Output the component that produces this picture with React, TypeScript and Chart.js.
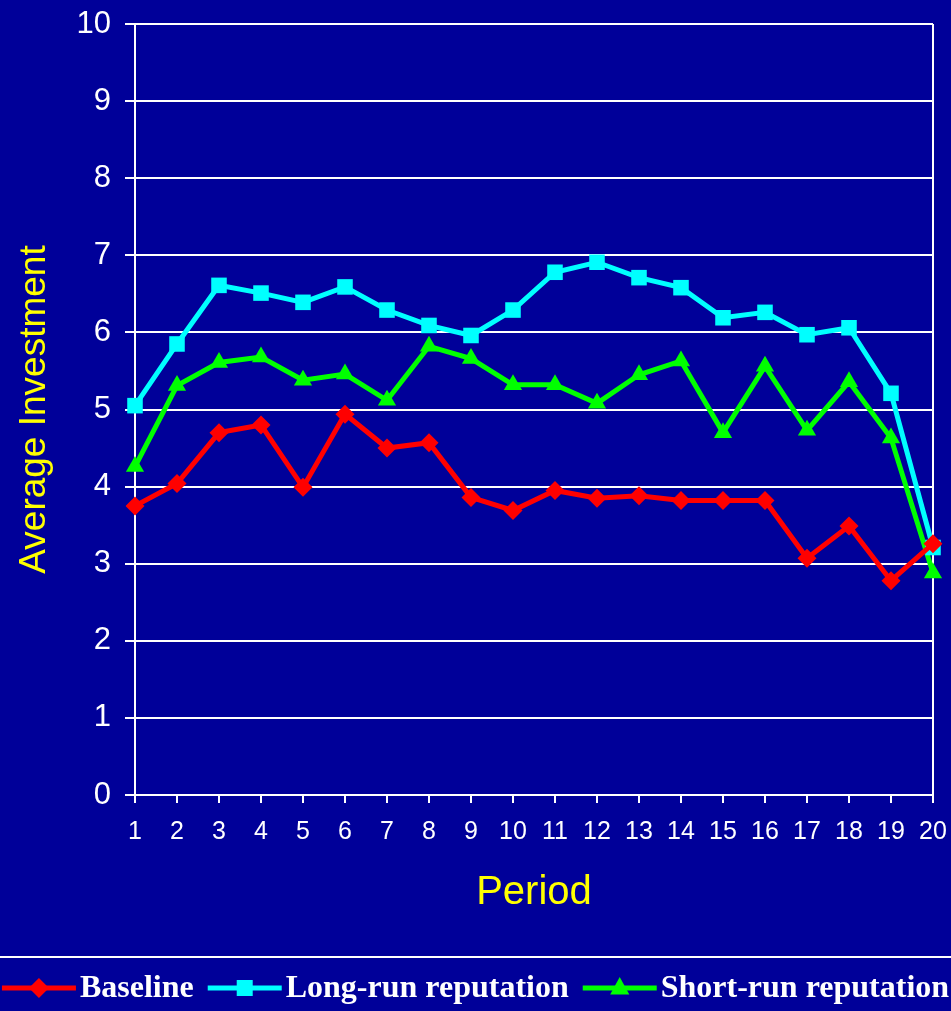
import React, { useEffect, useRef } from "react";
import { Chart, registerables } from "chart.js";

Chart.register(...registerables);

const periods = ["1","2","3","4","5","6","7","8","9","10","11","12","13","14","15","16","17","18","19","20"];
const baseline = [3.75,4.04,4.70,4.80,3.99,4.94,4.50,4.57,3.86,3.69,3.95,3.85,3.88,3.82,3.82,3.82,3.07,3.49,2.78,3.26];
const longRun = [5.05,5.85,6.61,6.51,6.39,6.59,6.29,6.09,5.96,6.29,6.78,6.91,6.71,6.58,6.19,6.26,5.97,6.06,5.21,3.21];
const shortRun = [4.26,5.31,5.61,5.68,5.38,5.46,5.12,5.82,5.66,5.32,5.32,5.08,5.45,5.63,4.70,5.56,4.73,5.36,4.63,2.88];
const seriesNames = ["Baseline", "Long-run reputation", "Short-run reputation"];
const yTicks = [0,1,2,3,4,5,6,7,8,9,10];

const BG = "#000099";

export default function App() {
  const ref = useRef<HTMLCanvasElement | null>(null);

  useEffect(() => {
    const canvas = ref.current;
    if (!canvas) return;
    document.body.style.margin = "0";
    document.body.style.background = BG;

    const bgPlugin = {
      id: "bg",
      beforeDraw(chart: any) {
        const c = chart.ctx;
        c.save();
        c.fillStyle = BG;
        c.fillRect(0, 0, chart.width, chart.height);
        c.restore();
      },
    };

    const legendPlugin = {
      id: "customLegend",
      afterDraw(chart: any) {
        const c = chart.ctx;
        c.save();
        c.strokeStyle = "#ffffff";
        c.lineWidth = 2;
        c.beginPath();
        c.moveTo(0, 957);
        c.lineTo(chart.width, 957);
        c.stroke();
        const font = "bold 32px 'Liberation Serif', 'Times New Roman', serif";
        c.font = font;
        const symW = 74;
        const gapText = 4;
        const gapItem = 14;
        const ds = chart.data.datasets;
        const widths = ds.map((d: any) => c.measureText(d.label).width);
        let total = 0;
        widths.forEach((w: number, i: number) => {
          total += symW + gapText + w + (i < widths.length - 1 ? gapItem : 0);
        });
        let x = Math.max(0, (chart.width - total) / 2);
        const y = 988;
        ds.forEach((d: any, i: number) => {
          c.strokeStyle = d.borderColor;
          c.lineWidth = 5;
          c.beginPath();
          c.moveTo(x, y);
          c.lineTo(x + symW, y);
          c.stroke();
          c.fillStyle = d.borderColor;
          const cx = x + symW / 2;
          const st = d.pointStyle;
          c.beginPath();
          if (st === "rectRot") {
            const r = 10;
            c.moveTo(cx, y - r);
            c.lineTo(cx + r, y);
            c.lineTo(cx, y + r);
            c.lineTo(cx - r, y);
          } else if (st === "rect") {
            const s = 8;
            c.rect(cx - s, y - s, 2 * s, 2 * s);
          } else {
            const r = 11;
            c.moveTo(cx, y - r);
            c.lineTo(cx + r * 0.87, y + r * 0.6);
            c.lineTo(cx - r * 0.87, y + r * 0.6);
          }
          c.closePath();
          c.fill();
          c.fillStyle = "#ffffff";
          c.font = font;
          c.textBaseline = "middle";
          c.textAlign = "left";
          c.fillText(d.label, x + symW + gapText, y + 1);
          x += symW + gapText + widths[i] + gapItem;
        });
        c.restore();
      },
    };

    const chart = new Chart(canvas, {
      type: "line",
      data: {
        labels: periods,
        datasets: [
          {
            label: seriesNames[0],
            data: baseline,
            borderColor: "#ff0000",
            backgroundColor: "#ff0000",
            borderWidth: 5,
            pointStyle: "rectRot",
            pointRadius: 9.5,
            pointBorderWidth: 0,
            tension: 0,
          },
          {
            label: seriesNames[1],
            data: longRun,
            borderColor: "#00ffff",
            backgroundColor: "#00ffff",
            borderWidth: 5,
            pointStyle: "rect",
            pointRadius: 11,
            pointBorderWidth: 0,
            tension: 0,
          },
          {
            label: seriesNames[2],
            data: shortRun,
            borderColor: "#00ff00",
            backgroundColor: "#00ff00",
            borderWidth: 5,
            pointStyle: "triangle",
            pointRadius: 10.5,
            pointBorderWidth: 0,
            tension: 0,
          },
        ],
      },
      options: {
        responsive: false,
        animation: false,
        devicePixelRatio: 1,
        layout: { padding: { left: 0, right: 18, top: 24, bottom: 81 } },
        plugins: {
          legend: { display: false },
          tooltip: { enabled: false },
        },
        scales: {
          x: {
            offset: false,
            afterFit: (s: any) => {
              s.height = 135;
              s.paddingLeft = 0;
              s.paddingRight = 0;
            },
            grid: {
              drawOnChartArea: true,
              color: (ctx: any) => (ctx.index === periods.length - 1 ? "#ffffff" : "rgba(0,0,0,0)"),
              tickColor: "#ffffff",
              lineWidth: 2,
              tickLength: 8,
            },
            border: { display: true, color: "#ffffff", width: 2 },
            ticks: {
              color: "#ffffff",
              font: { family: "Arial, 'Liberation Sans', sans-serif", size: 25 },
              padding: 14,
              maxRotation: 0,
              autoSkip: false,
            },
            title: {
              display: true,
              text: "Period",
              color: "#ffff00",
              font: { family: "Arial, 'Liberation Sans', sans-serif", size: 40 },
              padding: { top: 0, bottom: 13 },
            },
          },
          y: {
            min: 0,
            max: 10,
            afterFit: (s: any) => {
              s.width = 135;
              s.paddingTop = 0;
              s.paddingBottom = 0;
            },
            afterBuildTicks: (s: any) => { s.ticks = yTicks.map((v) => ({ value: v })); },
            grid: {
              color: "#ffffff",
              lineWidth: 2,
              tickLength: 10,
            },
            border: { display: true, color: "#ffffff", width: 2 },
            ticks: {
              color: "#ffffff",
              font: { family: "Arial, 'Liberation Sans', sans-serif", size: 31 },
              padding: 14,
              stepSize: 1,
            },
            title: {
              display: true,
              text: "Average Investment",
              color: "#ffff00",
              font: { family: "Arial, 'Liberation Sans', sans-serif", size: 37 },
              padding: { top: 13, bottom: 0 },
            },
          },
        },
      },
      plugins: [bgPlugin, legendPlugin],
    });

    return () => chart.destroy();
  }, []);

  return (
    <div style={{ position: "absolute", left: 0, top: 0, width: 951, height: 1011 }}>
      <canvas ref={ref} width={951} height={1011} style={{ display: "block", width: 951, height: 1011 }} />
    </div>
  );
}
